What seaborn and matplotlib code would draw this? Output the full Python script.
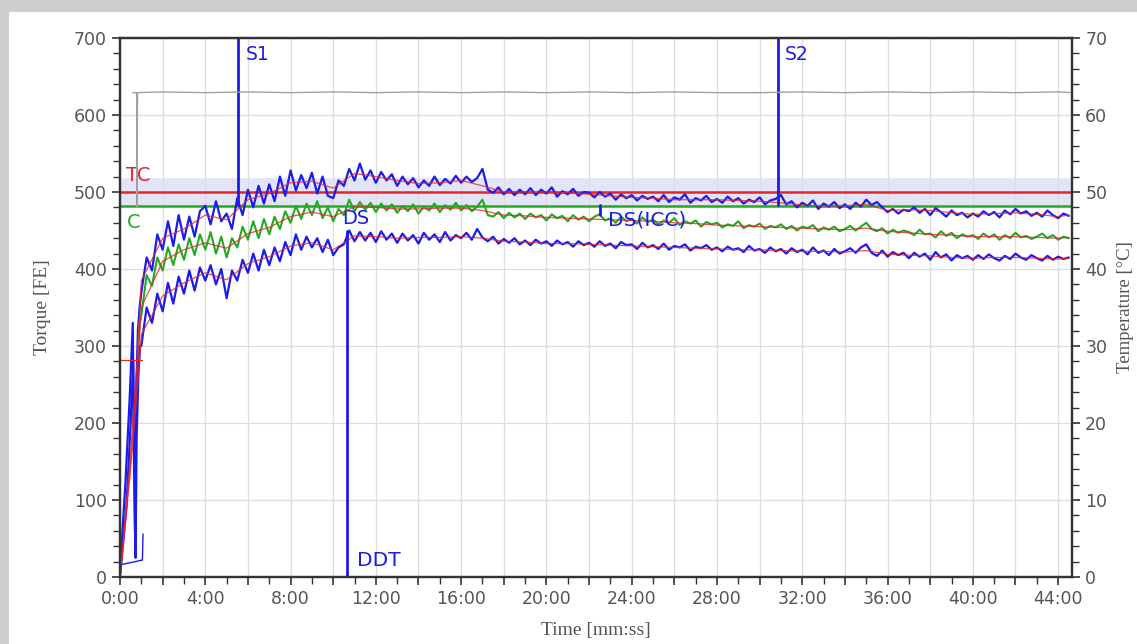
import numpy as np
import matplotlib
matplotlib.use("Agg")
import matplotlib.pyplot as plt
from matplotlib.patches import Rectangle
from matplotlib.ticker import MultipleLocator, FuncFormatter
import seaborn as sns

# ---- data (minutes, torque FE, temperature degC) ----
grid_minutes = np.arange(1.0, 44.51, 0.25)  # sampling of the noisy torque traces

upper_torque = [
    370, 415, 398, 445, 425, 462, 430, 470, 438, 468, 442, 475,
    482, 458, 488, 462, 472, 452, 492, 470, 503, 480, 508, 485,
    510, 488, 520, 495, 528, 502, 522, 505, 525, 498, 520, 495,
    492, 515, 508, 530, 515, 537, 516, 528, 512, 526, 515, 523,
    508, 520, 510, 518, 506, 515, 508, 520, 509, 517, 511, 521,
    512, 520, 513, 518, 530, 503, 499, 506, 497, 504, 496, 503,
    497, 505, 496, 503, 498, 506, 494, 501, 497, 504, 495, 500,
    499, 493, 500, 494, 498, 490, 497, 492, 496, 489, 495, 491,
    494, 488, 496, 487, 493, 490, 497, 486, 492, 489, 495, 487,
    491, 486, 494, 488, 492, 485, 490, 487, 493, 484, 489, 491,
    496, 484, 488, 480, 486, 482, 489, 478, 485, 481, 487, 479,
    484, 478, 486, 481, 490, 483, 487, 480, 474, 478, 472, 477,
    475, 480, 473, 478, 470, 479, 474, 468, 476, 470, 473, 467,
    472, 468, 475, 470, 474, 467, 476, 471, 478, 472, 475, 469,
    473, 468, 476, 470, 466, 472, 469,
]
middle_torque = [
    340, 392, 378, 415, 398, 428, 405, 432, 412, 440, 418, 445,
    425, 448, 420, 442, 415, 440, 428, 455, 438, 462, 440, 465,
    445, 468, 452, 475, 460, 482, 465, 485, 470, 488, 466, 480,
    462, 478, 470, 490, 475, 487, 477, 486, 474, 485, 476, 484,
    473, 482, 475, 484, 472, 481, 476, 485, 474, 483, 477, 486,
    476, 483, 475, 481, 490, 470, 468, 474, 466, 473, 467, 472,
    465, 472, 467, 470, 463, 471, 466, 469, 462, 470, 464, 468,
    462, 468, 471, 463, 466, 460, 468, 462, 465, 459, 467, 461,
    464, 458, 463, 460, 466, 457, 462, 459, 463, 455, 461, 458,
    460, 454, 458, 456, 462, 453, 457, 455, 459, 452, 456, 454,
    458, 452, 456, 450, 455, 453, 457, 449, 454, 451, 455, 449,
    452, 456, 450, 455, 460, 452, 449, 453, 446, 451, 447, 450,
    448, 444, 451, 445, 446, 441, 449, 443, 447, 440, 445, 442,
    444, 439, 446, 441, 445, 438, 444, 440, 447, 441, 443, 439,
    442, 446, 440, 444, 438, 442, 440,
]
lower_torque = [
    300, 350, 330, 368, 345, 382, 355, 390, 368, 398, 372, 402,
    385, 405, 380, 400, 362, 398, 385, 412, 395, 420, 398, 425,
    405, 428, 410, 435, 418, 445, 425, 442, 428, 440, 422, 438,
    418, 428, 432, 450, 436, 448, 437, 447, 435, 449, 438, 446,
    434, 446, 437, 444, 433, 447, 438, 445, 435, 448, 437, 444,
    440, 447, 438, 452, 441, 436, 442, 433, 439, 434, 440, 432,
    437, 431, 438, 433, 436, 430, 437, 432, 435, 429, 436, 431,
    434, 429, 436, 430, 433, 427, 435, 431, 432, 426, 434, 428,
    431, 426, 433, 425, 430, 428, 432, 424, 429, 427, 431, 425,
    428, 423, 429, 425, 427, 422, 430, 424, 426, 421, 428, 423,
    426, 420, 427, 422, 425, 419, 428, 421, 424, 418, 426, 420,
    423, 427, 421, 428, 432, 421, 417, 424, 416, 422, 418, 421,
    414, 421, 416, 420, 412, 422, 415, 419, 411, 418, 414, 417,
    412, 418, 413, 419, 414, 411, 417, 413, 420, 415, 412, 418,
    414, 411, 417, 412, 416, 413, 415,
]

# start-up of each trace (before 1:00)
upper_start_minutes = [0.05, 0.25, 0.45, 0.60, 0.64, 0.70, 0.76, 0.84, 0.92]
upper_start_torque = [30, 120, 230, 330, 200, 60, 240, 320, 350]
middle_start_minutes = [0.85, 0.93]
middle_start_torque = [300, 330]
lower_start_minutes = [0.00, 0.30, 0.50, 0.62, 0.68, 0.73, 0.78, 0.86, 0.94]
lower_start_torque = [0, 90, 200, 280, 120, 25, 180, 260, 300]
hook_minutes = [0.05, 1.05, 1.08]
hook_torque = [16, 22, 56]

# moving-average (red) curves
smooth_minutes = [0.0, 0.5, 0.8] + list(range(1, 45)) + [44.5]
upper_smooth = [0, 160, 280,
                385, 440, 452, 470, 464, 490, 498, 512, 514, 505, 524, 520, 515, 511, 512,
                515, 508, 500, 500, 500, 499, 497, 495, 493, 492, 490, 490, 490, 489, 488,
                486, 483, 482, 482, 484, 476, 477, 476, 473, 471, 472, 473, 471, 468, 470]
middle_smooth = [0, 150, 260,
                 350, 410, 425, 434, 427, 446, 454, 468, 474, 468, 481, 480, 478, 478, 479,
                 479, 476, 470, 469, 467, 466, 465, 464, 463, 462, 460, 459, 457, 456, 455,
                 454, 453, 452, 451, 453, 449, 447, 445, 444, 442, 442, 442, 441, 440, 441]
lower_smooth = [0, 140, 240,
                315, 365, 382, 395, 386, 407, 416, 430, 434, 425, 443, 442, 440, 441, 441,
                442, 440, 436, 435, 433, 433, 432, 431, 430, 429, 428, 427, 426, 425, 425,
                424, 423, 423, 422, 424, 419, 418, 417, 415, 414, 415, 415, 414, 413, 414]
start_level_minutes = [0.0, 1.05]
start_level_torque = [282, 282]

# temperature (right axis)
temp_minutes = [0.60, 0.79, 0.80, 0.82, 2, 4, 6, 8, 10, 12, 14, 16, 18, 20, 22,
                24, 26, 28, 30, 32, 34, 36, 38, 40, 42, 44, 44.65]
temp_values = [62.9, 62.9, 48.0, 62.9, 63.0, 62.9, 63.0, 62.9, 63.0, 62.9, 63.0, 62.9, 63.0,
               62.9, 63.0, 62.9, 63.0, 62.9, 62.9, 63.0, 62.9, 63.0, 62.9, 63.0, 62.9, 63.0, 62.9]

# limits and events
tc_value = 500
c_value = 482
band_low, band_high = 482, 518
event_labels = ["S1", "S2", "DS", "DS(ICC)"]
event_minutes = [5.55, 30.85, 10.65, 22.5]
event_top = [700, 700, 450, 483]
event_bottom = [483, 483, 0, 470]

# ---- styling ----
sns.set_theme(style="ticks")
plt.rcParams['font.family'] = ['DejaVu Sans']

BLUE = '#1c1ce8'
RED = '#e5252a'
GREEN = '#22aa22'
TXT = '#555555'
SERIF = 'Liberation Serif'

fig = plt.figure(figsize=(11.37, 6.44), dpi=100)
fig.patch.set_facecolor('#cfcfcf')
fig.patches.append(Rectangle((9 / 1137, 0), 1, 1 - 12 / 644, transform=fig.transFigure,
                             facecolor='white', edgecolor='none', zorder=-10))
ax = fig.add_axes([120 / 1137, 1 - 577 / 644, 952 / 1137, 539 / 644])

ax.axhspan(band_low, band_high, color='#e4e4f8', zorder=0.5, lw=0)

line_kw = dict(ax=ax, estimator=None, sort=False, legend=False)
sns.lineplot(x=[0, 44.65], y=[tc_value, tc_value], color=RED, lw=1.8, zorder=2, **line_kw)
sns.lineplot(x=[0, 44.65], y=[c_value, c_value], color=GREEN, lw=1.8, zorder=2, **line_kw)

sns.lineplot(x=upper_start_minutes + list(grid_minutes), y=upper_start_torque + upper_torque,
             color=BLUE, lw=1.6, zorder=3, **line_kw)
sns.lineplot(x=middle_start_minutes + list(grid_minutes), y=middle_start_torque + middle_torque,
             color=GREEN, lw=1.5, zorder=3, **line_kw)
sns.lineplot(x=lower_start_minutes + list(grid_minutes), y=lower_start_torque + lower_torque,
             color=BLUE, lw=1.6, zorder=3, **line_kw)
sns.lineplot(x=hook_minutes, y=hook_torque, color=BLUE, lw=1.0, zorder=3, **line_kw)

for smooth in (upper_smooth, middle_smooth, lower_smooth):
    sns.lineplot(x=smooth_minutes, y=smooth, color=RED, lw=0.9, alpha=0.8, zorder=4, **line_kw)
sns.lineplot(x=start_level_minutes, y=start_level_torque, color=RED, lw=0.9, zorder=4, **line_kw)

for t, top, bottom in zip(event_minutes, event_top, event_bottom):
    sns.lineplot(x=[t, t], y=[bottom, top], color=BLUE, lw=2.0, zorder=5, **line_kw)

# annotations
ax.text(5.9, 678, event_labels[0], color=BLUE, fontsize=13.5, va='center')
ax.text(31.2, 678, event_labels[1], color=BLUE, fontsize=13.5, va='center')
ax.text(10.4, 466, event_labels[2], color=BLUE, fontsize=14, va='center')
ax.text(22.9, 464, event_labels[3], color=BLUE, fontsize=14.5, va='center', zorder=6)
ax.text(11.1, 21, "DDT", color=BLUE, fontsize=14.5, va='center')
ax.text(0.3, 521, "TC", color=RED, fontsize=14, va='center')
ax.text(0.3, 461, "C", color=GREEN, fontsize=14, va='center')

# axes
ax.set_xlim(0, 44.65)
ax.set_ylim(0, 700)
ax.xaxis.set_major_locator(MultipleLocator(2))
ax.xaxis.set_minor_locator(MultipleLocator(1))
ax.xaxis.set_major_formatter(FuncFormatter(
    lambda v, p: f"{int(round(v))}:00" if int(round(v)) % 4 == 0 else ""))
ax.yaxis.set_major_locator(MultipleLocator(100))
ax.yaxis.set_minor_locator(MultipleLocator(20))
ax.grid(True, which='major', color='#dddddd', lw=0.9)
ax.set_axisbelow(True)
ax.tick_params(which='both', direction='out', colors='#333333', labelcolor=TXT, labelsize=12.5)
ax.tick_params(which='major', length=6, width=1.2)
ax.tick_params(which='minor', length=5, width=1.0)
for s in ax.spines.values():
    s.set_color('#333333')
    s.set_linewidth(1.6)

ax.set_xlabel("Time [mm:ss]", family=SERIF, fontsize=14, color=TXT)
ax.set_ylabel("Torque [FE]", family=SERIF, fontsize=14, color=TXT)
ax.xaxis.set_label_coords(0.5, -0.083)
ax.yaxis.set_label_coords(-0.072, 0.5)

ax2 = ax.twinx()
sns.lineplot(x=temp_minutes, y=temp_values, ax=ax2, color='#a0a0a0', lw=1.0,
             estimator=None, sort=False, legend=False)
ax2.set_ylim(0, 70)
ax2.yaxis.set_major_locator(MultipleLocator(10))
ax2.yaxis.set_minor_locator(MultipleLocator(2))
ax2.tick_params(which='both', direction='out', colors='#333333', labelcolor=TXT, labelsize=12.5)
ax2.tick_params(which='major', length=6, width=1.2)
ax2.tick_params(which='minor', length=5, width=1.0)
for s in ax2.spines.values():
    s.set_color('#333333')
    s.set_linewidth(1.6)
ax2.set_ylabel("Temperature [°C]", family=SERIF, fontsize=13.5, color=TXT)
ax2.yaxis.set_label_coords(1.0475, 0.5)

fig.savefig("out.png", dpi=100, facecolor=fig.get_facecolor())
